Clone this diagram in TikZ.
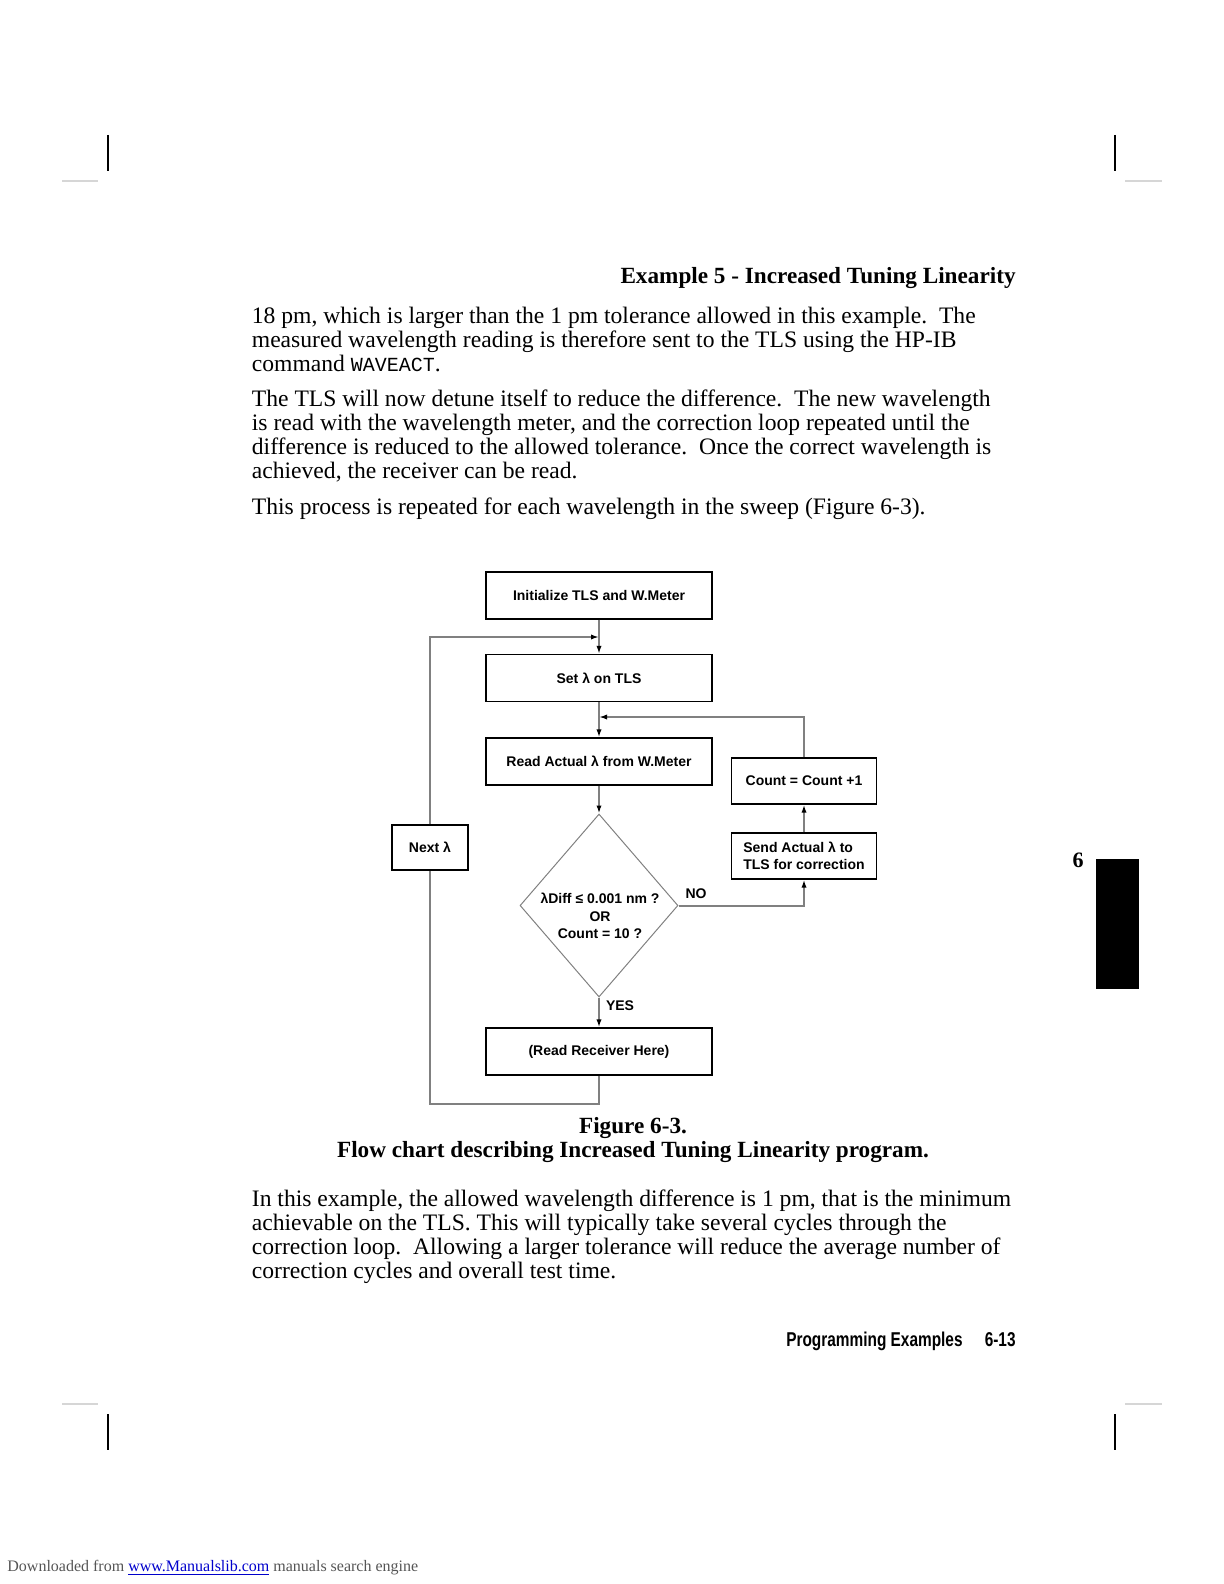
\documentclass[tikz,border=0pt]{standalone}
\usepackage{fontspec}
\setmainfont{Liberation Serif}
\newfontfamily\boxfont{Liberation Sans}
\newfontfamily\footfont[FakeStretch=0.77]{Liberation Sans}
\newfontfamily\codefont{Liberation Mono}
\usepackage{tikz}
\usetikzlibrary{arrows.meta, positioning, shapes.geometric}
\definecolor{linegray}{HTML}{808080}
\definecolor{markgray}{HTML}{D6D6D6}
\definecolor{linkblue}{HTML}{0000CC}
\definecolor{notegray}{HTML}{555555}

\tikzset{
  stepbox/.style={draw=black, line width=0.6pt, minimum width=113pt, minimum height=23.5pt,
    inner sep=1pt, align=center, font=\boxfont\bfseries\fontsize{7}{8.75}\selectfont},
  sidebox/.style={stepbox, minimum width=72.5pt, minimum height=23pt},
  decision/.style={diamond, draw=linegray, line width=0.5pt, minimum width=79pt,
    minimum height=91.5pt, inner sep=0pt},
  flowtext/.style={inner sep=0pt, align=center, font=\boxfont\bfseries\fontsize{7}{8.75}\selectfont},
  flow/.style={draw=linegray, line width=1pt, -{Latex[length=4pt, width=2.6pt, color=black]}},
  plain/.style={draw=linegray, line width=1pt},
  bodyline/.style={anchor=base west, inner sep=0pt, font=\fontsize{11.8}{14}\selectfont},
  headline/.style={inner sep=0pt, font=\bfseries\fontsize{11.6}{14}\selectfont},
  footline/.style={anchor=base east, inner sep=0pt, font=\footfont\bfseries\fontsize{10}{12}\selectfont},
  cropmark/.style={line width=0.7pt},
  trimmark/.style={draw=markgray, line width=0.6pt}
}

\begin{document}
\begin{tikzpicture}[x=0.5pt, y=-0.5pt]
  \useasboundingbox (0,0) rectangle (1224,1584);

  % crop marks
  \draw[cropmark] (108,135) -- (108,171);
  \draw[cropmark] (1115,135) -- (1115,171);
  \draw[cropmark] (108,1414) -- (108,1450);
  \draw[cropmark] (1115,1414) -- (1115,1450);
  \draw[trimmark] (62,181) -- (98,181);
  \draw[trimmark] (1125,181) -- (1162,181);
  \draw[trimmark] (62,1404) -- (98,1404);
  \draw[trimmark] (1125,1404) -- (1162,1404);

  % running head and text
  \node[headline, anchor=base east] (head) at (1016,283) {Example 5 - Increased Tuning Linearity};

  \node[bodyline] (pa1) at (251.5,323) {18 pm, which is larger than the 1 pm tolerance allowed in this example.\ \ The};
  \node[bodyline] (pa2) at (251.5,347) {measured wavelength reading is therefore sent to the TLS using the HP-IB};
  \node[bodyline] (pa3) at (251.5,371) {command {\codefont\fontsize{10}{12}\selectfont WAVEACT}.};

  \node[bodyline] (pb1) at (251.5,406) {The TLS will now detune itself to reduce the difference.\ \ The new wavelength};
  \node[bodyline] (pb2) at (251.5,430) {is read with the wavelength meter, and the correction loop repeated until the};
  \node[bodyline] (pb3) at (251.5,454) {difference is reduced to the allowed tolerance.\ \ Once the correct wavelength is};
  \node[bodyline] (pb4) at (251.5,478) {achieved, the receiver can be read.};

  \node[bodyline] (pc1) at (251.5,514) {This process is repeated for each wavelength in the sweep (Figure 6-3).};

  % flow chart
  \node[stepbox] (init) at (599,595.5) {Initialize TLS and W.Meter};
  \node[stepbox] (set) at (599,678) {Set λ on TLS};
  \node[stepbox] (read) at (599,761.5) {Read Actual λ from W.Meter};
  \node[decision] (test) at (599,905.5) {};
  \node[flowtext] (testtext) at (600,916) {λDiff ≤ 0.001 nm ?\\OR\\Count = 10 ?};
  \node[stepbox] (recv) at (599,1051.5) {(Read Receiver Here)};
  \node[sidebox] (count) at (804,781) {Count = Count +1};
  \node[sidebox, align=left] (send) at (804,856) {Send Actual λ to\\TLS for correction};
  \node[sidebox, minimum width=38pt, minimum height=22.5pt] (next) at (430,847.5) {Next λ};

  \coordinate (looptop) at (599,637);
  \coordinate (corrtop) at (599,717);
  \coordinate (loopbot) at (430,1104);

  \draw[flow] (init) -- (set);
  \draw[flow] (next.north) |- (looptop);
  \draw[flow] (set) -- (read);
  \draw[flow] (count.north) |- (corrtop);
  \draw[flow] (read) -- (test);
  \draw[flow] (test.east) -| (send.south);
  \draw[flow] (send) -- (count);
  \draw[flow] (test) -- (recv);
  \draw[plain] (recv.south) -- (recv.south |- loopbot) -| (next.south);

  \node[flowtext] (nolabel) at (696,894) {NO};
  \node[flowtext] (yeslabel) at (620,1006) {YES};

  % caption
  \node[headline, anchor=base] (cap1) at (633,1133) {Figure 6-3.};
  \node[headline, anchor=base] (cap2) at (633,1157) {Flow chart describing Increased Tuning Linearity program.};

  \node[bodyline] (pd1) at (251.5,1206) {In this example, the allowed wavelength difference is 1 pm, that is the minimum};
  \node[bodyline] (pd2) at (251.5,1230) {achievable on the TLS. This will typically take several cycles through the};
  \node[bodyline] (pd3) at (251.5,1254) {correction loop.\ \ Allowing a larger tolerance will reduce the average number of};
  \node[bodyline] (pd4) at (251.5,1278) {correction cycles and overall test time.};

  % chapter tab
  \fill (1096,859) rectangle (1139,989);
  \node[headline, anchor=base, font=\bfseries\fontsize{11}{13}\selectfont] (tabnum) at (1078,867) {6};

  % footer
  \node[footline] (footname) at (963,1346) {Programming Examples};
  \node[footline] (footpage) at (1016,1346) {6-13};
  \node[anchor=base west, inner sep=0pt, font=\fontsize{8}{10}\selectfont, text=notegray] (source) at (7,1571)
    {Downloaded from \textcolor{linkblue}{\underline{www.Manualslib.com}} manuals search engine};
\end{tikzpicture}
\end{document}
